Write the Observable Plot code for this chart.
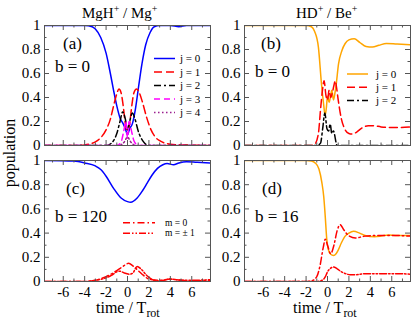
<!DOCTYPE html>
<html><head><meta charset="utf-8">
<script src="https://cdn.jsdelivr.net/npm/d3@7"></script>
<script src="https://cdn.jsdelivr.net/npm/@observablehq/plot@0.6"></script>
<style>
html,body{margin:0;padding:0;background:#fff;}
#chart{position:relative;width:411px;height:319px;overflow:hidden;background:#fff;font-family:'Liberation Serif','Times New Roman',serif;}
#chart > svg{position:absolute;}
</style></head><body><div id="chart"></div>
<script>
// ---- axis ticks ----
const xMajor = [-6, -4, -2, 0, 2, 4, 6];
const xMinor = [-7, -5, -3, -1, 1, 3, 5, 7];
const yMajor = [0, 0.2, 0.4, 0.6, 0.8, 1];
const yMinor = [0.1, 0.3, 0.5, 0.7, 0.9];
const xDomain = [-7.75, 7.75];

// ---- panel (a) MgH+/Mg+, b = 0 ----
const aJ0t = [-7.75, -4, -3.3, -3, -2.5, -2, -1.6, -1.3, -1, -0.7, -0.4, -0.2, 0, 0.2, 0.45, 0.75, 1.05, 1.35, 1.7, 2.1, 2.5, 3, 4, 4.8, 5.5, 7.75];
const aJ0v = [1, 1, 0.99, 0.97, 0.9, 0.77, 0.6, 0.46, 0.33, 0.23, 0.18, 0.14, 0.09, 0.14, 0.18, 0.31, 0.5, 0.68, 0.84, 0.94, 0.99, 1, 1, 0.99, 1, 1];
const aJ1t = [-7.75, -5, -4, -3, -2.5, -2, -1.6, -1.3, -1, -0.8, -0.6, -0.4, -0.2, 0, 0.2, 0.4, 0.6, 0.85, 1.1, 1.4, 1.8, 2.2, 2.6, 3, 3.5, 4, 5, 7.75];
const aJ1v = [0, 0, 0.005, 0.03, 0.065, 0.13, 0.22, 0.33, 0.43, 0.47, 0.44, 0.33, 0.18, 0.12, 0.18, 0.33, 0.44, 0.47, 0.44, 0.36, 0.23, 0.13, 0.07, 0.04, 0.02, 0.01, 0.005, 0];
const aJ2t = [-7.75, -2, -1.5, -1, -0.7, -0.45, -0.2, 0, 0.2, 0.45, 0.7, 1, 1.5, 2, 7.75];
const aJ2v = [0, 0, 0.02, 0.1, 0.2, 0.28, 0.22, 0.13, 0.2, 0.27, 0.22, 0.12, 0.03, 0, 0];
const aJ3t = [-7.75, -1, -0.6, -0.35, -0.15, 0, 0.15, 0.35, 0.6, 1, 7.75];
const aJ3v = [0, 0, 0.03, 0.12, 0.2, 0.06, 0.2, 0.13, 0.04, 0, 0];
const aJ4t = [-7.75, -0.8, -0.3, 0, 0.3, 0.8, 7.75];
const aJ4v = [0, 0, 0.03, 0.07, 0.03, 0, 0];

// ---- panel (b) HD+/Be+, b = 0 ----
const bJ0t = [-7.75, -2, -1.5, -1.2, -0.85, -0.55, -0.37, -0.22, -0.1, 0, 0.15, 0.3, 0.4, 0.56, 0.7, 0.8, 1.03, 1.34, 1.65, 2, 2.5, 3, 3.6, 4.2, 4.8, 5.5, 6.5, 7.75];
const bJ0v = [1, 1, 0.99, 0.95, 0.82, 0.5, 0.35, 0.25, 0.32, 0.41, 0.36, 0.42, 0.46, 0.38, 0.44, 0.5, 0.68, 0.79, 0.85, 0.88, 0.89, 0.86, 0.825, 0.82, 0.835, 0.85, 0.845, 0.84];
const bJ1t = [-7.75, -1.6, -1.2, -0.85, -0.65, -0.47, -0.32, -0.15, 0, 0.15, 0.3, 0.45, 0.6, 0.72, 0.85, 1.0, 1.3, 1.6, 2, 2.3, 2.7, 3.2, 3.8, 4.3, 5, 5.8, 6.5, 7.75];
const bJ1v = [0, 0, 0.01, 0.1, 0.3, 0.46, 0.54, 0.42, 0.38, 0.46, 0.4, 0.44, 0.5, 0.54, 0.48, 0.38, 0.22, 0.14, 0.1, 0.095, 0.11, 0.145, 0.165, 0.165, 0.155, 0.15, 0.15, 0.155];
const bJ2t = [-7.75, -1, -0.65, -0.45, -0.25, -0.05, 0.1, 0.25, 0.4, 0.55, 0.9, 7.75];
const bJ2v = [0, 0, 0.02, 0.14, 0.27, 0.14, 0.12, 0.18, 0.1, 0.12, 0, 0];

// ---- panel (c) MgH+/Mg+, b = 120 ----
const cJ0t = [-7.75, -5, -4, -3, -2.5, -2, -1.3, -0.6, 0, 0.3, 0.9, 1.4, 1.85, 2.3, 2.8, 3.3, 3.7, 4.3, 4.8, 5.5, 6.5, 7.75];
const cJ0v = [1, 0.995, 0.98, 0.955, 0.925, 0.87, 0.77, 0.69, 0.66, 0.655, 0.69, 0.75, 0.815, 0.88, 0.935, 0.965, 0.975, 0.965, 0.98, 0.99, 0.985, 0.98];
const cM0t = [-7.75, -4, -3, -2, -1, -0.5, 0.1, 0.5, 1, 1.5, 2, 3, 4, 5, 6, 7.75];
const cM0v = [0, 0, 0.01, 0.04, 0.09, 0.12, 0.15, 0.13, 0.09, 0.05, 0.02, 0.01, 0.02, 0.01, 0.005, 0.01];
const cM1t = [-7.75, -4, -3, -2, -1.5, -1, -0.7, -0.3, 0.2, 0.5, 0.9, 1.3, 1.8, 2.5, 3, 4, 5, 6, 7.75];
const cM1v = [0, 0, 0.01, 0.03, 0.05, 0.08, 0.085, 0.07, 0.06, 0.07, 0.125, 0.1, 0.05, 0.01, 0.005, 0.02, 0.01, 0.01, 0.015];

// ---- panel (d) HD+/Be+, b = 16 ----
const dJ0t = [-7.75, -2, -1.5, -1.15, -0.8, -0.53, -0.35, -0.22, -0.07, 0.09, 0.3, 0.56, 0.8, 1.0, 1.3, 1.65, 2, 2.43, 3, 3.5, 4.4, 5, 5.7, 6.5, 7.75];
const dJ0v = [1, 1, 0.995, 0.98, 0.93, 0.82, 0.7, 0.55, 0.35, 0.26, 0.225, 0.215, 0.23, 0.26, 0.32, 0.375, 0.4, 0.415, 0.4, 0.38, 0.37, 0.375, 0.385, 0.38, 0.38];
const dM0t = [-7.75, -2, -1.5, -1, -0.7, -0.4, -0.2, 0, 0.3, 0.6, 0.9, 1.18, 1.5, 1.96, 2.6, 3.5, 4.5, 5.5, 6.5, 7.75];
const dM0v = [0, 0, 0.005, 0.04, 0.13, 0.28, 0.35, 0.3, 0.23, 0.3, 0.42, 0.47, 0.43, 0.38, 0.36, 0.375, 0.38, 0.38, 0.38, 0.375];
const dM1t = [-7.75, -1, -0.5, -0.2, 0, 0.3, 0.56, 0.9, 1.3, 1.7, 2.1, 2.6, 3.5, 4.5, 5.5, 6.5, 7.75];
const dM1v = [0, 0, 0.01, 0.04, 0.08, 0.11, 0.12, 0.105, 0.08, 0.065, 0.055, 0.055, 0.065, 0.065, 0.065, 0.065, 0.06];

// ---- labels ----
const titles = ["MgH", "HD"];
const legendJ = ["j = 0", "j = 1", "j = 2", "j = 3", "j = 4"];
const legendM = ["m = 0", "m = \u00b1 1"];

const BLUE = "#0000ff", RED = "#ff0000", BLACK = "#000000", MAG = "#ff00ff", PURP = "#9b1f8f", ORANGE = "#ffa500";
const FRAME = "#555";
const D_J1 = "8,4", D_J2 = "7,3,2,3", D_J3 = "6,4", D_J4 = "1.5,2.5", D_M0 = "7,3,1.5,3", D_M1 = "7,2,1.5,2,1.5,2";

const pts = (t, v) => t.map((x, i) => ({t: x, v: v[i]}));

function panel({series, left, top, plotW, plotH, showX}) {
  const mL = 44, mT = 25, mR = 1, mB = showX ? 28 : 8;
  const tick = (arr, dir, len) => {
    if (dir === "bottom") return Plot.tickX(arr, {x: d => d, insetTop: plotH - len, stroke: FRAME});
    if (dir === "top") return Plot.tickX(arr, {x: d => d, insetBottom: plotH - len, stroke: FRAME});
    if (dir === "left") return Plot.tickY(arr, {y: d => d, insetRight: plotW - len, stroke: FRAME});
    return Plot.tickY(arr, {y: d => d, insetLeft: plotW - len, stroke: FRAME});
  };
  const marks = [];
  for (const s of series) {
    marks.push(Plot.line(pts(s.t, s.v), {x: "t", y: "v", stroke: s.color, strokeWidth: 1.5,
      strokeDasharray: s.dash, curve: "monotone-x", clip: true}));
  }
  for (const dir of ["bottom", "top"]) { marks.push(tick(xMajor, dir, 5), tick(xMinor, dir, 2.5)); }
  for (const dir of ["left", "right"]) { marks.push(tick(yMajor, dir, 5), tick(yMinor, dir, 2.5)); }
  marks.push(Plot.frame({stroke: FRAME}));
  marks.push(Plot.axisY(yMajor, {tickSize: 0, tickPadding: 4, tickFormat: d => String(d), fontSize: 15, label: null}));
  if (showX) marks.push(Plot.axisX(xMajor, {tickSize: 0, tickPadding: 5, tickFormat: d => String(d), fontSize: 14.5, label: null}));
  const svg = Plot.plot({
    width: mL + plotW + mR, height: mT + plotH + mB,
    marginLeft: mL, marginTop: mT, marginRight: mR, marginBottom: mB,
    x: {domain: xDomain, axis: null, label: null}, y: {domain: [0, 1], axis: null, label: null},
    style: {fontFamily: "'Liberation Serif', 'Times New Roman', serif", fontSize: "15px", background: "transparent", color: "#000", overflow: "visible"},
    marks
  });
  svg.style.left = left + "px";
  svg.style.top = top + "px";
  document.getElementById("chart").appendChild(svg);
}

panel({left: 0, top: 0, plotW: 166, plotH: 120, showX: false, series: [
  {t: aJ0t, v: aJ0v, color: BLUE},
  {t: aJ1t, v: aJ1v, color: RED, dash: D_J1},
  {t: aJ2t, v: aJ2v, color: BLACK, dash: D_J2},
  {t: aJ3t, v: aJ3v, color: MAG, dash: D_J3},
  {t: aJ4t, v: aJ4v, color: PURP, dash: D_J4}
]});
panel({left: 200, top: 0, plotW: 166, plotH: 120, showX: false, series: [
  {t: bJ0t, v: bJ0v, color: ORANGE},
  {t: bJ1t, v: bJ1v, color: RED, dash: D_J1},
  {t: bJ2t, v: bJ2v, color: BLACK, dash: D_J2}
]});
panel({left: 0, top: 135, plotW: 166, plotH: 121, showX: true, series: [
  {t: cJ0t, v: cJ0v, color: BLUE},
  {t: cM0t, v: cM0v, color: RED, dash: D_M0},
  {t: cM1t, v: cM1v, color: RED, dash: D_M1}
]});
panel({left: 200, top: 135, plotW: 166, plotH: 121, showX: true, series: [
  {t: dJ0t, v: dJ0v, color: ORANGE},
  {t: dM0t, v: dM0v, color: RED, dash: D_M0},
  {t: dM1t, v: dM1v, color: RED, dash: D_M1}
]});

// ---- overlay: titles, annotations, legends, axis labels ----
const NS = "http://www.w3.org/2000/svg";
const ov = document.createElementNS(NS, "svg");
ov.setAttribute("width", 411); ov.setAttribute("height", 319);
ov.style.left = "0px"; ov.style.top = "0px";
ov.setAttribute("font-family", "'Liberation Serif', 'Times New Roman', serif");
function txt(x, y, s, size, anchor) {
  const e = document.createElementNS(NS, "text");
  e.setAttribute("x", x); e.setAttribute("y", y);
  e.setAttribute("font-size", size);
  if (anchor) e.setAttribute("text-anchor", anchor);
  e.innerHTML = s;
  ov.appendChild(e); return e;
}
function swatch(x1, x2, y, color, dash) {
  const l = document.createElementNS(NS, "line");
  l.setAttribute("x1", x1); l.setAttribute("x2", x2); l.setAttribute("y1", y); l.setAttribute("y2", y);
  l.setAttribute("stroke", color); l.setAttribute("stroke-width", 1.5);
  if (dash) l.setAttribute("stroke-dasharray", dash);
  ov.appendChild(l);
}
txt(82, 18, `${titles[0]}<tspan font-size="10" dy="-6">+</tspan><tspan dy="6"> / Mg</tspan><tspan font-size="10" dy="-6">+</tspan>`, 15);
txt(296, 18, `${titles[1]}<tspan font-size="10" dy="-6">+</tspan><tspan dy="6"> / Be</tspan><tspan font-size="10" dy="-6">+</tspan>`, 15);
txt(63, 49, "(a)", 17); txt(55, 71.5, "b = 0", 17);
txt(261, 49, "(b)", 17); txt(255, 77, "b = 0", 17);
txt(66, 194, "(c)", 17); txt(55, 221.5, "b = 120", 17);
txt(262, 194, "(d)", 17); txt(255, 221.5, "b = 16", 17);
// legends
const legA = [[BLUE, null], [RED, D_J1], [BLACK, D_J2], [MAG, D_J3], [PURP, D_J4]];
const rowsA = [58.5, 72, 85.5, 99, 112.5];
legA.forEach((d, i) => { swatch(154, 175, rowsA[i], d[0], d[1]); txt(180, rowsA[i] + 3.5, legendJ[i], 11); });
const rowsB = [74, 87.3, 100.6];
[[ORANGE, null], [RED, D_J1], [BLACK, D_J2]].forEach((d, i) => { swatch(347, 368, rowsB[i], d[0], d[1]); txt(376, rowsB[i] + 3.5, legendJ[i], 11); });
const rowsC = [222.7, 233.3];
[[RED, D_M0], [RED, D_M1]].forEach((d, i) => { swatch(123, 155, rowsC[i], d[0], d[1]); txt(165, rowsC[i] + 3, legendM[i], 9.5); });
// axis titles
txt(96, 312.5, `time / T<tspan font-size="12" dy="4.5">rot</tspan>`, 16);
txt(293, 312.5, `time / T<tspan font-size="12" dy="4.5">rot</tspan>`, 16);
const pop = txt(0, 0, "population", 16, "middle");
pop.setAttribute("transform", "translate(15,153) rotate(-90)");
document.getElementById("chart").appendChild(ov);
</script></body></html>
